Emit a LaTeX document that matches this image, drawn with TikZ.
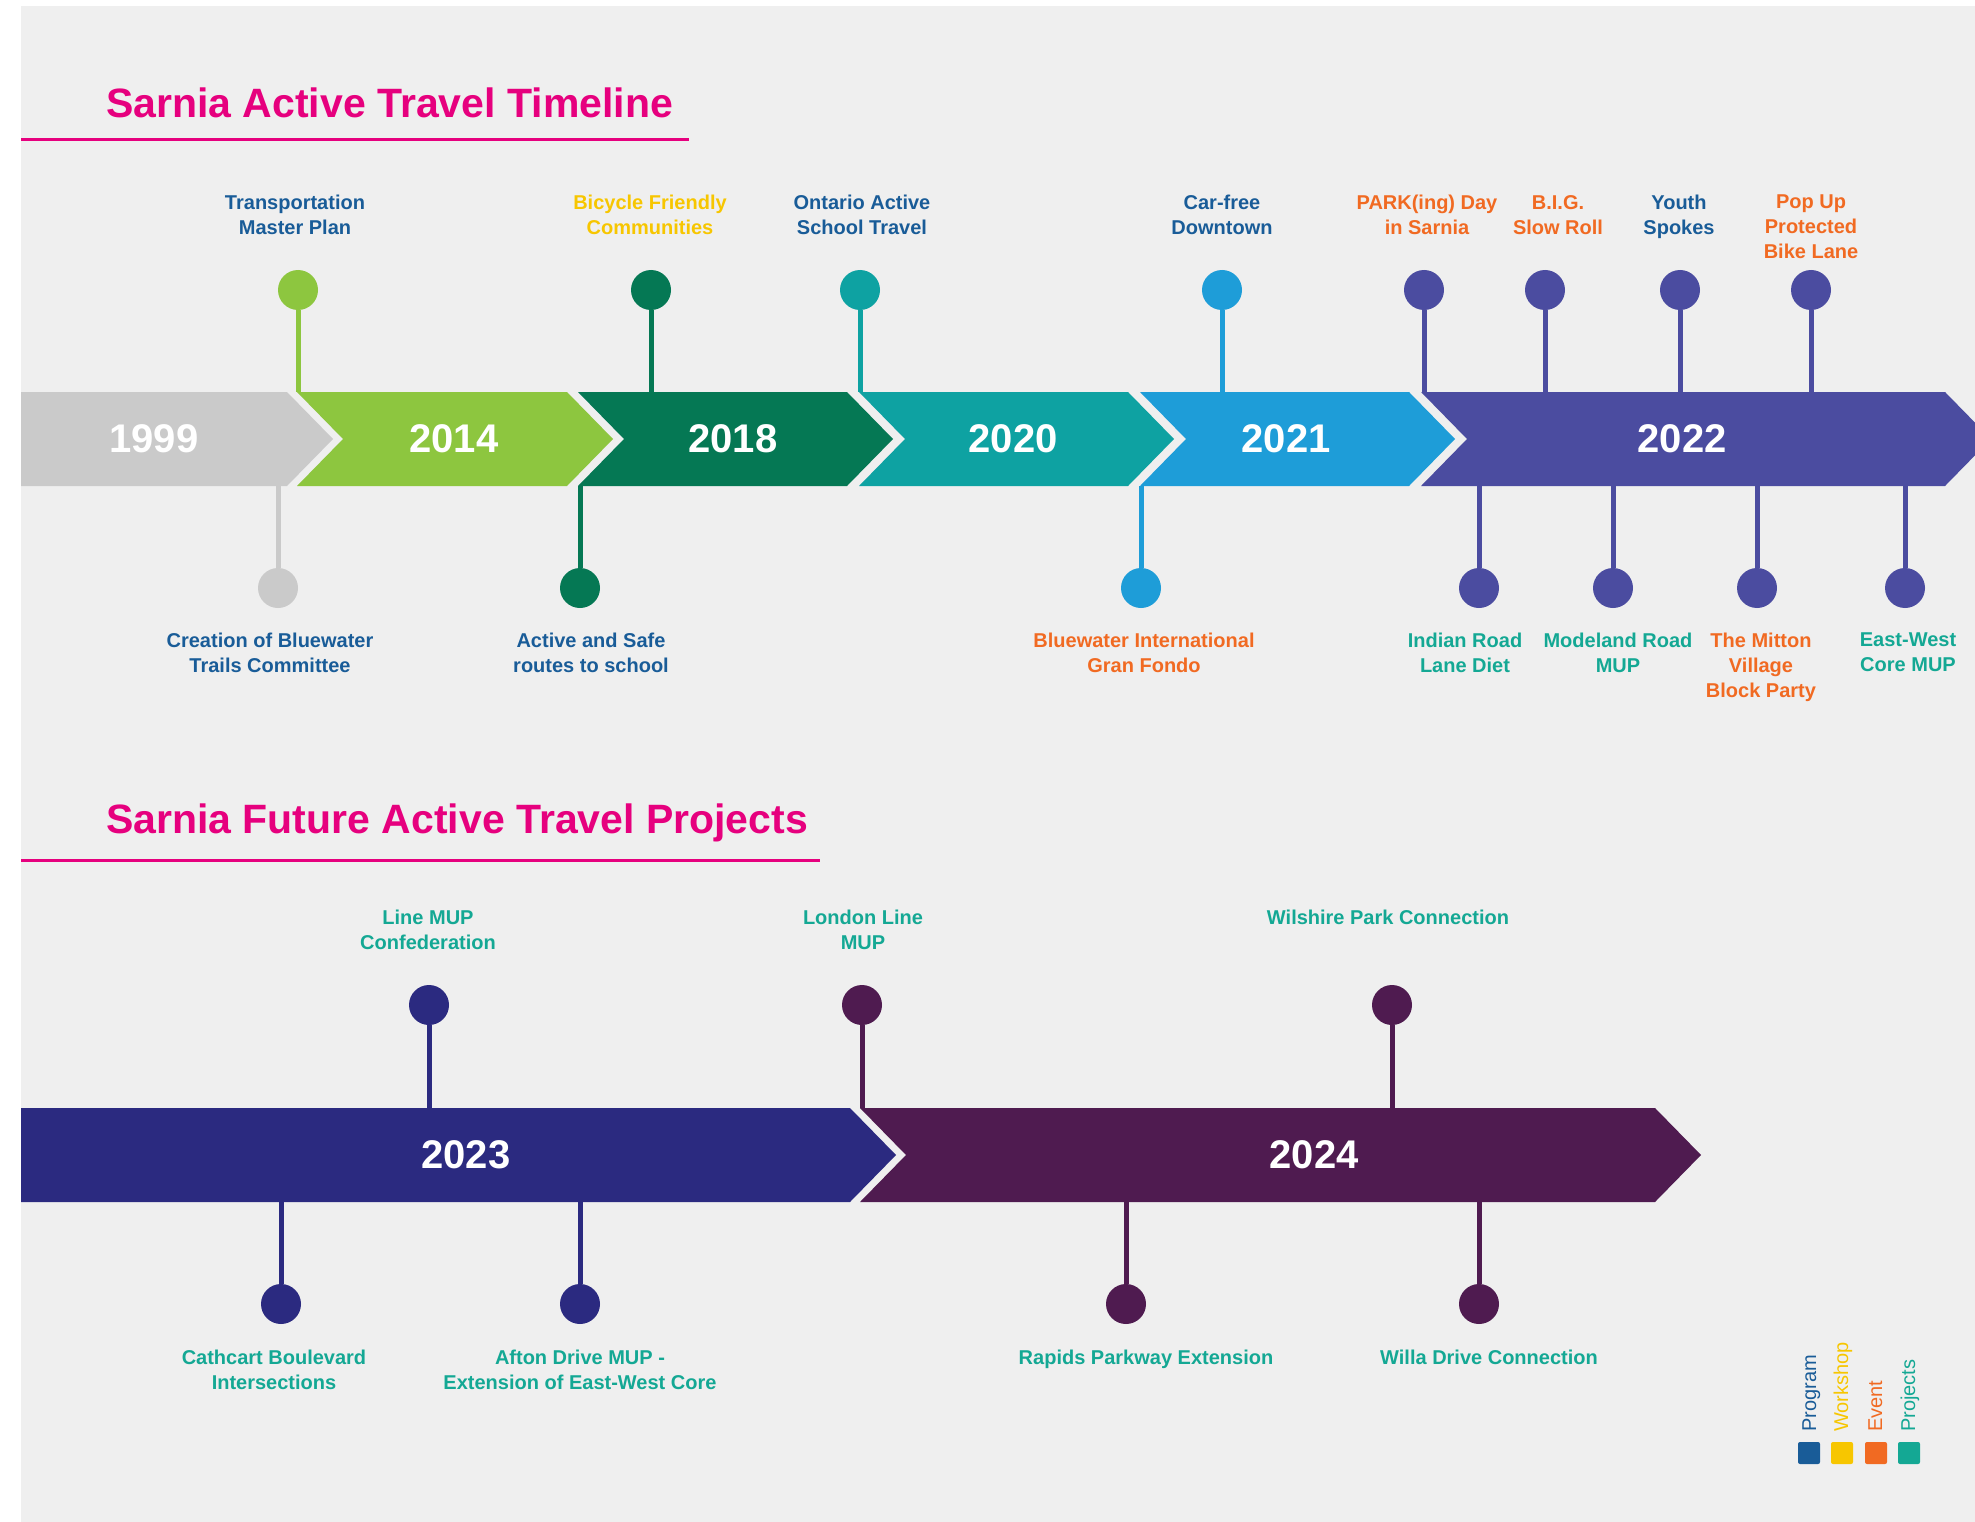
\documentclass[tikz,border=0pt]{standalone}
\usepackage{fontspec}
\setmainfont{Liberation Sans}
\definecolor{paper}{RGB}{239,239,239}
\definecolor{titlepink}{RGB}{230,0,126}
\definecolor{grey99}{RGB}{202,202,202}
\definecolor{lime14}{RGB}{141,198,63}
\definecolor{green18}{RGB}{5,120,84}
\definecolor{teal20}{RGB}{14,162,162}
\definecolor{blue21}{RGB}{30,157,216}
\definecolor{indigo22}{RGB}{75,76,160}
\definecolor{navy23}{RGB}{43,42,128}
\definecolor{plum24}{RGB}{79,27,80}
\definecolor{program}{RGB}{25,92,152}
\definecolor{workshop}{RGB}{247,198,0}
\definecolor{event}{RGB}{241,106,34}
\definecolor{projects}{RGB}{20,168,148}
\tikzset{
  heading/.style = {anchor=base west, inner sep=0pt, text=titlepink,
    font=\fontsize{41}{48}\selectfont\bfseries},
  yearnode/.style = {text=white, inner sep=0pt,
    font=\fontsize{40}{48}\selectfont\bfseries},
  pinnode/.style = {circle, inner sep=0pt, minimum size=40pt, fill=#1},
  stem/.style = {line width=5pt, draw=#1},
  infonode/.style = {anchor=north, align=center, inner sep=0pt, text=#1,
    font=\fontsize{20}{25}\selectfont\bfseries},
  keybox/.style = {fill=#1, rounded corners=2pt, minimum size=22pt, inner sep=0pt},
  keytext/.style = {anchor=base west, rotate=90, inner sep=0pt, text=#1,
    font=\fontsize{20}{24}\selectfont},
}
% colour, left x, notch depth, right x, mid y
\newcommand{\chevron}[5]{%
  \fill[#1] (#2,#5-47) -- (#4,#5-47) -- (#4+46,#5) -- (#4,#5+47)
    -- (#2,#5+47) -- (#2+#3,#5) -- cycle;}

\begin{document}
\begin{tikzpicture}[x=1pt,y=-1pt]
\path[use as bounding box] (0,0) rectangle (1975,1522);
\clip (0,0) rectangle (1975,1522);
\fill[white] (0,0) rectangle (1975,1522);
\fill[paper] (21,6) rectangle (1975,1522);

% past timeline
\node[heading] (head1) at (106,118) {Sarnia Active Travel Timeline};
\draw[titlepink, line width=3pt] (21,140) -- (689,140);

\chevron{grey99}{21}{0}{287}{439}
\chevron{lime14}{297}{46}{567}{439}
\chevron{green18}{578}{46}{847}{439}
\chevron{teal20}{859}{46}{1128}{439}
\chevron{blue21}{1140}{46}{1409}{439}
\chevron{indigo22}{1421}{46}{1945}{439}
\coordinate (top1) at (0,392);
\coordinate (bot1) at (0,486);

\node[yearnode] (y1999) at (154,439) {1999};
\node[yearnode] (y2014) at (454,439) {2014};
\node[yearnode] (y2018) at (733,439) {2018};
\node[yearnode] (y2020) at (1013,439) {2020};
\node[yearnode] (y2021) at (1286,439) {2021};
\node[yearnode] (y2022) at (1682,439) {2022};

\node[pinnode=lime14] (tmp) at (298,290) {};
\draw[stem=lime14] (tmp) -- (tmp |- top1);
\node[infonode=program] (tmptext) at (295,195) {Transportation\\Master Plan};

\node[pinnode=green18] (bfc) at (651,290) {};
\draw[stem=green18] (bfc) -- (bfc |- top1);
\node[infonode=workshop] (bfctext) at (650,195) {Bicycle Friendly\\Communities};

\node[pinnode=teal20] (oast) at (860,290) {};
\draw[stem=teal20] (oast) -- (oast |- top1);
\node[infonode=program] (oasttext) at (862,195) {Ontario Active\\School Travel};

\node[pinnode=blue21] (cfd) at (1222,290) {};
\draw[stem=blue21] (cfd) -- (cfd |- top1);
\node[infonode=program] (cfdtext) at (1222,195) {Car-free\\Downtown};

\node[pinnode=indigo22] (park) at (1424,290) {};
\draw[stem=indigo22] (park) -- (park |- top1);
\node[infonode=event] (parktext) at (1427,195) {PARK(ing) Day\\in Sarnia};

\node[pinnode=indigo22] (big) at (1545,290) {};
\draw[stem=indigo22] (big) -- (big |- top1);
\node[infonode=event] (bigtext) at (1558,195) {B.I.G.\\Slow Roll};

\node[pinnode=indigo22] (youth) at (1680,290) {};
\draw[stem=indigo22] (youth) -- (youth |- top1);
\node[infonode=program] (youthtext) at (1679,195) {Youth\\Spokes};

\node[pinnode=indigo22] (popup) at (1811,290) {};
\draw[stem=indigo22] (popup) -- (popup |- top1);
\node[infonode=event] (popuptext) at (1811,195) {Pop Up\\Protected\\Bike Lane};

\node[pinnode=grey99] (btc) at (278,588) {};
\draw[stem=grey99] (btc) -- (btc |- bot1);
\node[infonode=program] (btctext) at (270,633) {Creation of Bluewater\\Trails Committee};

\node[pinnode=green18] (asr) at (580,588) {};
\draw[stem=green18] (asr) -- (asr |- bot1);
\node[infonode=program] (asrtext) at (591,633) {Active and Safe\\routes to school};

\node[pinnode=blue21] (fondo) at (1141,588) {};
\draw[stem=blue21] (fondo) -- (fondo |- bot1);
\node[infonode=event] (fondotext) at (1144,633) {Bluewater International\\Gran Fondo};

\node[pinnode=indigo22] (indian) at (1479,588) {};
\draw[stem=indigo22] (indian) -- (indian |- bot1);
\node[infonode=projects] (indiantext) at (1465,633) {Indian Road\\Lane Diet};

\node[pinnode=indigo22] (modeland) at (1613,588) {};
\draw[stem=indigo22] (modeland) -- (modeland |- bot1);
\node[infonode=projects] (modelandtext) at (1618,633) {Modeland Road\\MUP};

\node[pinnode=indigo22] (mitton) at (1757,588) {};
\draw[stem=indigo22] (mitton) -- (mitton |- bot1);
\node[infonode=event] (mittontext) at (1761,633) {The Mitton\\Village\\Block Party};

\node[pinnode=indigo22] (eastwest) at (1905,588) {};
\draw[stem=indigo22] (eastwest) -- (eastwest |- bot1);
\node[infonode=projects] (eastwesttext) at (1908,633) {East-West\\Core MUP};

% future projects
\node[heading] (head2) at (106,833) {Sarnia Future Active Travel Projects};
\draw[titlepink, line width=3pt] (21,860) -- (820,860);

\chevron{navy23}{21}{0}{850}{1155}
\chevron{plum24}{860}{46}{1655}{1155}
\coordinate (top2) at (0,1108);
\coordinate (bot2) at (0,1202);

\node[yearnode] (y2023) at (466,1155) {2023};
\node[yearnode] (y2024) at (1314,1155) {2024};

\node[pinnode=navy23] (confed) at (429,1005) {};
\draw[stem=navy23] (confed) -- (confed |- top2);
\node[infonode=projects] (confedtext) at (428,910) {Line MUP\\Confederation};

\node[pinnode=plum24] (london) at (862,1005) {};
\draw[stem=plum24] (london) -- (london |- top2);
\node[infonode=projects] (londontext) at (863,910) {London Line\\MUP};

\node[pinnode=plum24] (wilshire) at (1392,1005) {};
\draw[stem=plum24] (wilshire) -- (wilshire |- top2);
\node[infonode=projects] (wilshiretext) at (1388,910) {Wilshire Park Connection};

\node[pinnode=navy23] (cathcart) at (281,1304) {};
\draw[stem=navy23] (cathcart) -- (cathcart |- bot2);
\node[infonode=projects] (cathcarttext) at (274,1350) {Cathcart Boulevard\\Intersections};

\node[pinnode=navy23] (afton) at (580,1304) {};
\draw[stem=navy23] (afton) -- (afton |- bot2);
\node[infonode=projects] (aftontext) at (580,1350) {Afton Drive MUP -\\Extension of East-West Core};

\node[pinnode=plum24] (rapids) at (1126,1304) {};
\draw[stem=plum24] (rapids) -- (rapids |- bot2);
\node[infonode=projects] (rapidstext) at (1146,1350) {Rapids Parkway Extension};

\node[pinnode=plum24] (willa) at (1479,1304) {};
\draw[stem=plum24] (willa) -- (willa |- bot2);
\node[infonode=projects] (willatext) at (1489,1350) {Willa Drive Connection};

% key
\node[keybox=program] (kprog) at (1809,1453) {};
\node[keytext=program] (kprogtext) at (1816,1432) {Program};
\node[keybox=workshop] (kwork) at (1842,1453) {};
\node[keytext=workshop] (kworktext) at (1848,1432) {Workshop};
\node[keybox=event] (kevent) at (1876,1453) {};
\node[keytext=event] (keventtext) at (1882,1432) {Event};
\node[keybox=projects] (kproj) at (1909,1453) {};
\node[keytext=projects] (kprojtext) at (1915,1432) {Projects};
\end{tikzpicture}
\end{document}
